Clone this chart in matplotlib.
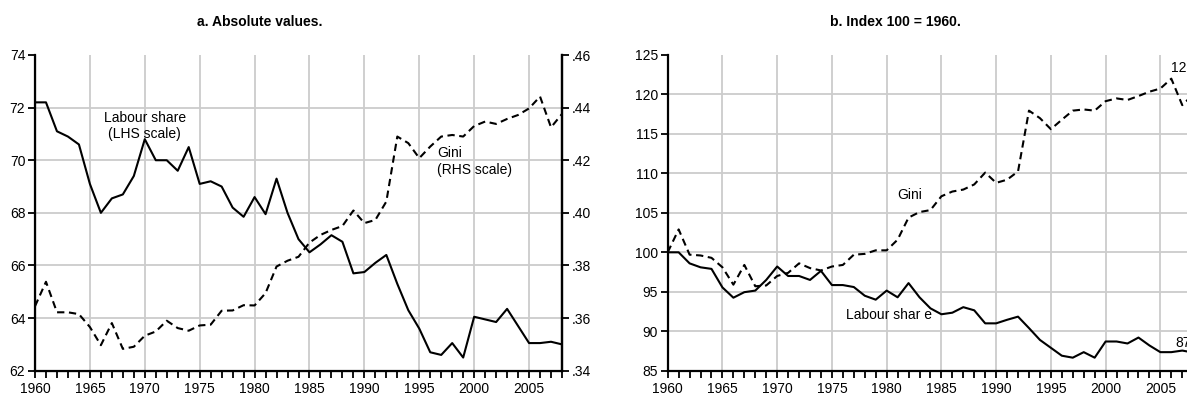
import matplotlib
matplotlib.use('Agg')
import matplotlib.pyplot as plt
from matplotlib.ticker import MultipleLocator, FuncFormatter

plt.rcParams['font.family'] = ['Liberation Sans', 'DejaVu Sans']

# Données (1960-2008)
years = list(range(1960, 2009))

labour_share = [72.2, 72.2, 71.1, 70.9, 70.6, 69.1, 68.0, 68.55, 68.7, 69.4,
                70.8, 70.0, 70.0, 69.6, 70.5, 69.1, 69.2, 69.0, 68.2, 67.85,
                68.6, 67.95, 69.3, 68.0, 67.0, 66.5, 66.8, 67.15, 66.9, 65.7,
                65.75, 66.1, 66.4, 65.3, 64.3, 63.6, 62.7, 62.6, 63.05, 62.5,
                64.05, 63.95, 63.85, 64.35, 63.7, 63.05, 63.05, 63.1, 63.0]

gini = [0.3645, 0.3738, 0.3622, 0.3622, 0.3615, 0.3566, 0.3497, 0.3581, 0.3483, 0.3491,
        0.3533, 0.3549, 0.3590, 0.3562, 0.3552, 0.3572, 0.3575, 0.3628, 0.3629, 0.3649,
        0.3648, 0.3695, 0.3796, 0.3818, 0.3833, 0.3887, 0.3916, 0.3935, 0.3950, 0.4009,
        0.3961, 0.3973, 0.4043, 0.4290, 0.4265, 0.4208, 0.4252, 0.4290, 0.4296, 0.4290,
        0.4330, 0.4347, 0.4338, 0.4357, 0.4372, 0.4397, 0.4442, 0.4325, 0.4376]

ls_index = [100, 100, 98.6, 98.1, 97.9, 95.55, 94.25, 94.95, 95.15, 96.5,
            98.2, 97.0, 97.0, 96.5, 97.65, 95.85, 95.85, 95.6, 94.5, 94.0,
            95.15, 94.3, 96.1, 94.3, 92.9, 92.15, 92.35, 93.05, 92.65, 91.0,
            91.0, 91.45, 91.85, 90.4, 88.9, 87.9, 86.9, 86.65, 87.35, 86.65,
            88.7, 88.7, 88.45, 89.2, 88.2, 87.35, 87.35, 87.55, 87.3]

gini_index = [100, 102.9, 99.7, 99.6, 99.3, 98.1, 95.9, 98.4, 95.7, 95.8,
              97.0, 97.4, 98.6, 98.0, 97.7, 98.2, 98.4, 99.7, 99.8, 100.25,
              100.25, 101.6, 104.4, 105.1, 105.35, 107.1, 107.7, 107.95, 108.6, 110.1,
              108.8, 109.2, 110.25, 117.95, 117.0, 115.6, 116.8, 117.95, 118.1, 117.95,
              119.15, 119.5, 119.3, 119.8, 120.35, 120.75, 122.0, 118.65, 120.0]

grid_color = '#cccccc'
lw = 1.5
dash = (0, (3.5, 2.2))
tick_size = 10

fig = plt.figure(figsize=(11.87, 3.96), dpi=100)


def style_axes(ax, ylim, ystep):
    ax.set_xlim(1960, 2008)
    ax.set_ylim(*ylim)
    ax.xaxis.set_major_locator(MultipleLocator(5))
    ax.xaxis.set_minor_locator(MultipleLocator(1))
    ax.yaxis.set_major_locator(MultipleLocator(ystep))
    ax.tick_params(axis='x', which='both', direction='out', length=5, width=1.3,
                   labelsize=tick_size, pad=3)
    ax.tick_params(axis='y', which='major', direction='out', length=5, width=1.3,
                   labelsize=tick_size, pad=2)
    ax.spines['top'].set_visible(False)
    for s in ('left', 'bottom', 'right'):
        ax.spines[s].set_linewidth(1.6)
    ax.grid(True, color=grid_color, linewidth=1.3)
    ax.set_axisbelow(True)
    # pas de grille sur les bords
    for line, t in zip(ax.get_ygridlines(), ax.get_yticks()):
        if t <= ylim[0] or t >= ylim[1]:
            line.set_visible(False)
    for line, t in zip(ax.get_xgridlines(), ax.get_xticks()):
        if t <= 1960 or t >= 2008:
            line.set_visible(False)


# Panneau a : valeurs absolues
ax1 = fig.add_axes([35 / 1187, 25.3 / 396, 527 / 1187, 315.7 / 396])
ax1.plot(years, labour_share, color='black', linewidth=lw)
style_axes(ax1, (62, 74), 2)
ax1.spines['right'].set_visible(True)

ax1b = ax1.twinx()
ax1b.plot(years, gini, color='black', linewidth=lw, linestyle=dash)
ax1b.set_ylim(0.34, 0.46)
ax1b.yaxis.set_major_locator(MultipleLocator(0.02))
ax1b.yaxis.set_major_formatter(FuncFormatter(lambda v, p: f'{v:.2f}'.lstrip('0')))
ax1b.tick_params(axis='y', direction='out', length=5, width=1.3, labelsize=tick_size, pad=2)
ax1b.spines['top'].set_visible(False)
ax1b.spines['right'].set_linewidth(1.6)

ax1.text(1970, 71.3, 'Labour share\n(LHS scale)', ha='center', va='center',
         fontsize=10, linespacing=1.25)
ax1b.text(1996.6, 0.4196, 'Gini\n(RHS scale)', ha='left', va='center',
          fontsize=10, linespacing=1.25)

# Panneau b : indice 100 = 1960 (coupé à droite comme l'original)
ax2 = fig.add_axes([667.7 / 1187, 25.3 / 396, 525.5 / 1187, 315.7 / 396])
ax2.plot(years, gini_index, color='black', linewidth=lw, linestyle=dash)
ax2.plot(years, ls_index, color='black', linewidth=lw)
style_axes(ax2, (85, 125), 5)
ax2.spines['right'].set_visible(False)
ax2.text(1981.0, 107.25, 'Gini', ha='left', va='center', fontsize=10)
ax2.text(1976.3, 92.05, 'Labour shar e', ha='left', va='center', fontsize=10)
ax2.text(2006.0, 123.3, f'{gini_index[-1]:.0f}', ha='left', va='center', fontsize=10)
ax2.text(2006.4, 88.5, f'{ls_index[-1]:.0f}', ha='left', va='center', fontsize=10)

# Sous-titres
fig.text(260 / 1187, 1 - 21.5 / 396, 'a. Absolute values.', ha='center', va='center',
         fontsize=10, fontweight='bold')
fig.text(895 / 1187, 1 - 21.5 / 396, 'b. Index 100 = 1960.', ha='center', va='center',
         fontsize=10, fontweight='bold')

plt.savefig('out.png', dpi=100)
